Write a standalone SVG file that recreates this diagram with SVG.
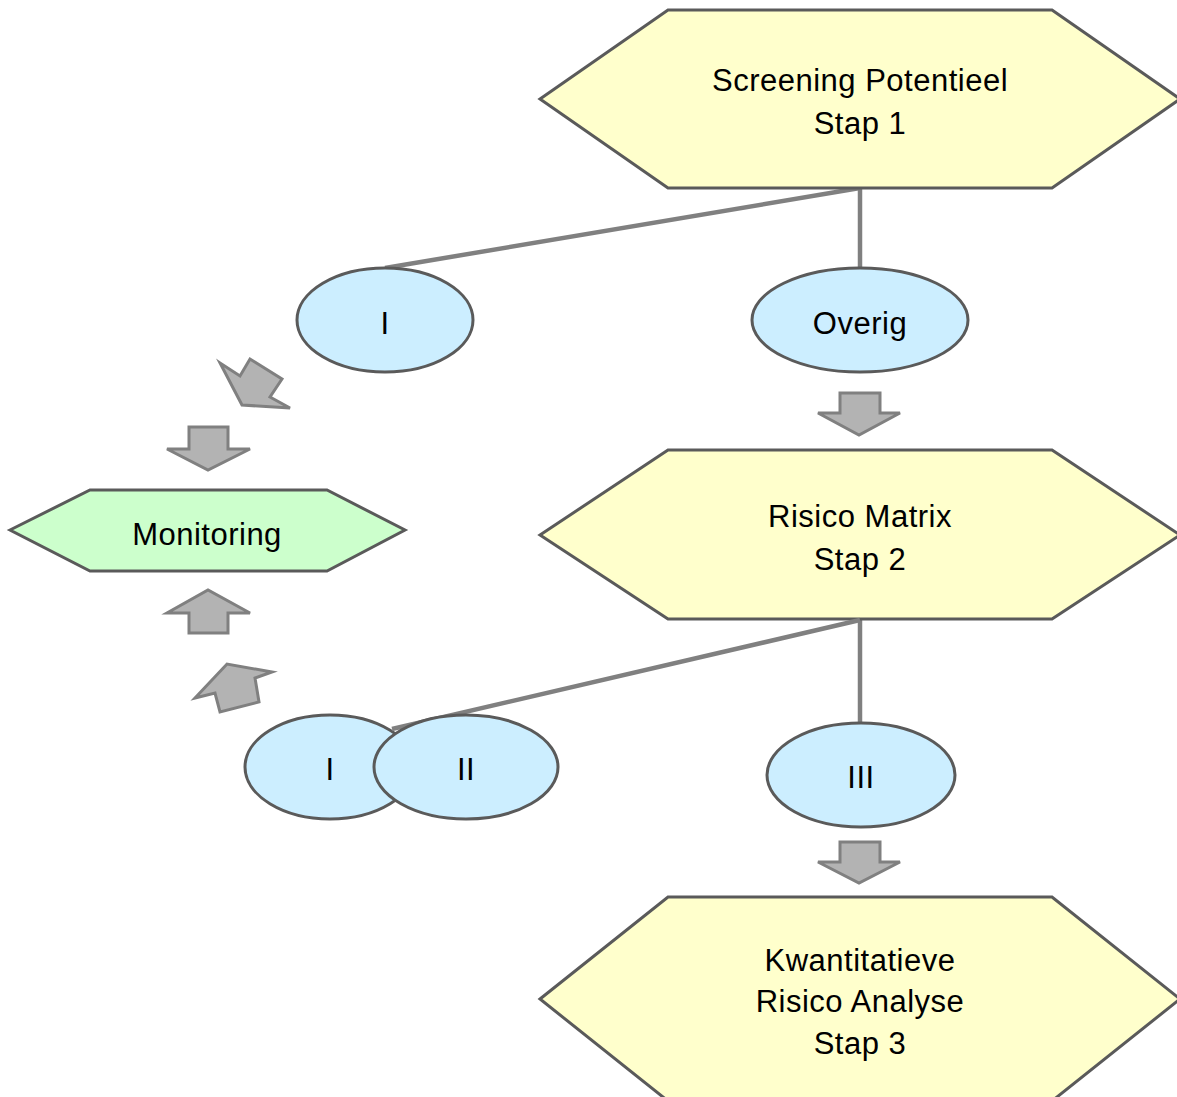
<svg xmlns="http://www.w3.org/2000/svg" width="1177" height="1097" viewBox="0 0 1177 1097">
<style>
.hex{fill:#ffffcc;stroke:#5a5a5a;stroke-width:3}
.mon{fill:#ccffcc;stroke:#5a5a5a;stroke-width:3}
.ell{fill:#cceeff;stroke:#5a5a5a;stroke-width:3}
.arr{fill:#b3b3b3;stroke:#808080;stroke-width:3;stroke-linejoin:miter}
.con{stroke:#808080;stroke-width:4.5;fill:none}
text{font-family:"Liberation Sans",Arial,sans-serif;font-size:31px;letter-spacing:0.5px;fill:#000;text-anchor:middle}
</style>
<rect width="1177" height="1097" fill="#fff"/>
<g id="connectors">
<line class="con" x1="860" y1="188" x2="385" y2="268"/>
<line class="con" x1="860" y1="188" x2="860" y2="268"/>
<line class="con" x1="860" y1="619" x2="860" y2="723"/>
</g>
<g id="stap1">
<polygon class="hex" points="540,99 668,10 1052,10 1180,99 1052,188 668,188"/>
<text x="860" y="91">Screening Potentieel</text>
<text x="860" y="134">Stap 1</text>
</g>
<g id="stap2">
<polygon class="hex" points="540,535 668,450 1052,450 1180,535 1052,619 668,619"/>
<text x="860" y="527">Risico Matrix</text>
<text x="860" y="570">Stap 2</text>
</g>
<g id="stap3">
<polygon class="hex" points="540,999 668,897 1052,897 1180,999 1052,1101 668,1101"/>
<text x="860" y="971">Kwantitatieve</text>
<text x="860" y="1012">Risico Analyse</text>
<text x="860" y="1054">Stap 3</text>
</g>
<g id="monitoring">
<polygon class="mon" points="10,530 90,490 327,490 405,530 327,571 90,571"/>
<text x="207" y="545">Monitoring</text>
</g>
<g id="ellI1">
<ellipse class="ell" cx="385" cy="320" rx="88" ry="52"/>
<text x="385" y="334">I</text>
</g>
<g id="ellOverig">
<ellipse class="ell" cx="860" cy="320" rx="108" ry="52"/>
<text x="860" y="334">Overig</text>
</g>
<g id="ellI2">
<ellipse class="ell" cx="330" cy="767" rx="85" ry="52"/>
<text x="330" y="780">I</text>
</g>
<g id="connector-over">
<line class="con" x1="860" y1="620" x2="392" y2="729"/>
</g>
<g id="ellII">
<ellipse class="ell" cx="466" cy="767" rx="92" ry="52"/>
<text x="466" y="780">II</text>
</g>
<g id="ellIII">
<ellipse class="ell" cx="861" cy="775" rx="94" ry="52"/>
<text x="861" y="788">III</text>
</g>
<g id="arrows">
<polygon class="arr" points="840,393 880,393 880,413 900,413 859,435 818,413 840,413"/>
<polygon class="arr" points="840,842 880,842 880,862 900,862 859,883 818,862 840,862"/>
<polygon class="arr" points="189,427 228,427 228,449 250,449 208,470 167,449 189,449"/>
<polygon class="arr" points="189,633 228,633 228,613 250,613 208,590 167,613 189,613"/>
<polygon class="arr" points="220,363 240,376 250,359 282,379 270,397 290,408 242,405"/>
<polygon class="arr" points="195,698 227,664 272,672 255,678 259,702 220,712 215,693"/>
</g>
</svg>
